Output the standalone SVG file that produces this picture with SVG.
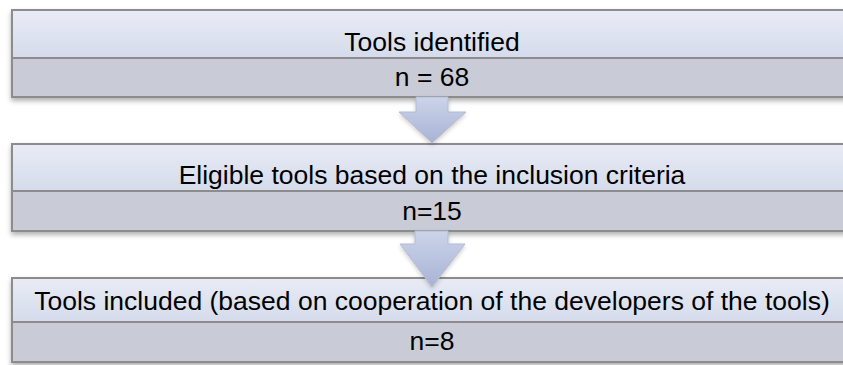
<svg xmlns="http://www.w3.org/2000/svg" width="843" height="365" viewBox="0 0 843 365">
<style>
.top{fill:url(#gTop);}
.bot{fill:#c9ccd6;}
.frame{fill:none;stroke:#8c8c8c;stroke-width:2;}
.div{stroke:#8c8c8c;stroke-width:2;}
.t{font-family:"Liberation Sans",Arial,sans-serif;font-size:26.5px;fill:#000;text-anchor:middle;}
.arr{fill:url(#gArr);stroke:#b4bccf;stroke-width:1;}
</style>
<defs>
<linearGradient id="gTop" x1="0" y1="0" x2="0" y2="1">
<stop offset="0" stop-color="#e9ecf6"/>
<stop offset="1" stop-color="#d5dbeb"/>
</linearGradient>
<linearGradient id="gArr" x1="0" y1="0" x2="0" y2="1">
<stop offset="0" stop-color="#ccd4ea"/>
<stop offset="1" stop-color="#a8b3d4"/>
</linearGradient>
<filter id="sh" x="-5%" y="-20%" width="110%" height="150%">
<feDropShadow dx="0" dy="3" stdDeviation="2.5" flood-color="#000" flood-opacity="0.3"/>
</filter>
<filter id="sha" x="-20%" y="-20%" width="140%" height="150%">
<feDropShadow dx="0" dy="2" stdDeviation="2" flood-color="#000" flood-opacity="0.2"/>
</filter>
</defs>
<rect width="843" height="365" fill="#fff"/>
<g id="node1">
<g filter="url(#sh)">
<rect class="top" x="12" y="10" width="840" height="48"/>
<rect class="bot" x="12" y="58" width="840" height="39"/>
<rect class="frame" x="12" y="10" width="840" height="87"/>
<line class="div" x1="12" y1="58" x2="852" y2="58"/>
</g>
<text class="t" x="432" y="51">Tools identified</text>
<text class="t" x="432" y="86">n = 68</text>
</g>
<g id="node2">
<g filter="url(#sh)">
<rect class="top" x="12" y="144" width="840" height="47"/>
<rect class="bot" x="12" y="191" width="840" height="40"/>
<rect class="frame" x="12" y="144" width="840" height="87"/>
<line class="div" x1="12" y1="191" x2="852" y2="191"/>
</g>
<text class="t" x="432" y="184">Eligible tools based on the inclusion criteria</text>
<text class="t" x="432" y="220">n=15</text>
</g>
<g id="node3">
<g filter="url(#sh)">
<rect class="top" x="12" y="278" width="840" height="44"/>
<rect class="bot" x="12" y="322" width="840" height="40"/>
<rect class="frame" x="12" y="278" width="840" height="84"/>
<line class="div" x1="12" y1="322" x2="852" y2="322"/>
</g>
<text class="t" x="432" y="310">Tools included (based on cooperation of the developers of the tools)</text>
<text class="t" x="432" y="350">n=8</text>
</g>
<g id="connectors" filter="url(#sha)">
<polygon class="arr" points="416,97 448,97 448,112 466,112 432,143 399,112 416,112"/>
<polygon class="arr" points="415,231 448,231 448,244 465,244 432,287 400,244 415,244"/>
</g>
</svg>
